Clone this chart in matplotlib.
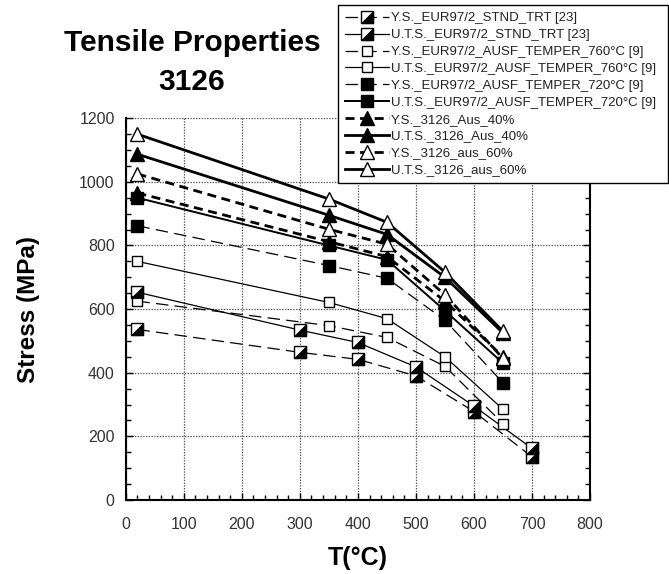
import numpy as np
import matplotlib
matplotlib.use("Agg")
import matplotlib.pyplot as plt
from matplotlib.ticker import MultipleLocator

plt.rcParams['font.family'] = ['Liberation Sans', 'DejaVu Sans']
plt.rcParams['lines.scale_dashes'] = False

# temperatures (°C)
t_stnd = [20, 300, 400, 500, 600, 700]
t_ausf = [20, 350, 450, 550, 650]
t_3126 = [20, 350, 450, 550, 650]

# stress (MPa)
ys_stnd = [536, 464, 442, 390, 278, 135]
uts_stnd = [653, 534, 495, 418, 295, 162]
ys_760 = [625, 548, 511, 420, 240]
uts_760 = [750, 621, 570, 450, 285]
ys_720 = [862, 737, 697, 565, 368]
uts_720 = [950, 800, 755, 595, 430]
ys_40 = [965, 812, 765, 625, 450]
uts_40 = [1087, 895, 835, 700, 525]
ys_60 = [1025, 851, 804, 645, 445]
uts_60 = [1150, 946, 873, 716, 530]

labels = ["Y.S._EUR97/2_STND_TRT [23]",
          "U.T.S._EUR97/2_STND_TRT [23]",
          "Y.S._EUR97/2_AUSF_TEMPER_760°C [9]",
          "U.T.S._EUR97/2_AUSF_TEMPER_760°C [9]",
          "Y.S._EUR97/2_AUSF_TEMPER_720°C [9]",
          "U.T.S._EUR97/2_AUSF_TEMPER_720°C [9]",
          "Y.S._3126_Aus_40%",
          "U.T.S._3126_Aus_40%",
          "Y.S._3126_aus_60%",
          "U.T.S._3126_aus_60%"]

thin_dash = (0, (9, 4.5))
thick_dash = (0, (6.5, 4))
half_tri = [(-1, -1), (1, -1), (1, 1), (-1, -1)]  # lower-right half of the square

fig = plt.figure(figsize=(6.69, 5.74), dpi=100)
ax = fig.add_axes([0.188, 0.129, 0.694, 0.665])

handles = []

def series(x, y, ls, lw, marker, ms, face, half=False):
    ln, = ax.plot(x, y, color='black', ls=ls, lw=lw, marker=marker, ms=ms,
                  mfc=face, mec='black', mew=1, zorder=3)
    if half:
        tri, = ax.plot(x, y, ls='none', marker=half_tri, ms=ms, mfc='black',
                       mec='black', mew=0.5, zorder=4)
        handles.append((ln, tri))
    else:
        handles.append(ln)

series(t_stnd, ys_stnd, thin_dash, 0.9, 's', 9, 'white', half=True)
series(t_stnd, uts_stnd, '-', 0.9, 's', 9, 'white', half=True)
series(t_ausf, ys_760, thin_dash, 0.9, 's', 7, 'white')
series(t_ausf, uts_760, '-', 0.9, 's', 7, 'white')
series(t_ausf, ys_720, thin_dash, 0.9, 's', 8, 'black')
series(t_ausf, uts_720, '-', 1.4, 's', 8, 'black')
series(t_3126, ys_40, thick_dash, 2.0, '^', 10, 'black')
series(t_3126, uts_40, '-', 2.0, '^', 10, 'black')
series(t_3126, ys_60, thick_dash, 2.0, '^', 10, 'white')
series(t_3126, uts_60, '-', 2.0, '^', 10, 'white')

ax.set_xlim(0, 800)
ax.set_ylim(0, 1200)
ax.xaxis.set_major_locator(MultipleLocator(100))
ax.xaxis.set_minor_locator(MultipleLocator(20))
ax.yaxis.set_major_locator(MultipleLocator(200))
ax.yaxis.set_minor_locator(MultipleLocator(50))
ax.grid(True, which='major', color='#555555', ls=(0, (1, 1)), lw=0.9)
ax.set_axisbelow(True)

for s in ['left', 'bottom', 'right']:
    ax.spines[s].set_linewidth(1.5)
ax.spines['top'].set_visible(False)
ax.tick_params(which='both', direction='in', right=True, top=False,
               labelsize=11.5, labelcolor='#333333', width=1)
ax.tick_params(which='major', length=5)
ax.tick_params(which='minor', length=3.5)
ax.tick_params(axis='x', pad=12)
ax.tick_params(axis='y', pad=8)

ax.set_xlabel("T(°C)", fontsize=18, fontweight='bold', labelpad=10)
ax.set_ylabel("Stress (MPa)", fontsize=17.5, fontweight='bold', labelpad=28)

fig.text(192 / 669, 1 - 43 / 574, "Tensile Properties", fontsize=21.5,
         fontweight='bold', ha='center', va='center')
fig.text(192 / 669, 1 - 82 / 574, "3126", fontsize=21.5,
         fontweight='bold', ha='center', va='center')

leg = fig.legend(handles, labels, loc='upper left',
                 bbox_to_anchor=(338 / 669, 0.5, 330 / 669, 1 - 5 / 574 - 0.5),
                 mode='expand', fontsize=9.5, frameon=True, fancybox=False,
                 edgecolor='black', framealpha=1, borderaxespad=0,
                 handlelength=3.3, handletextpad=0.15, borderpad=0.55,
                 labelspacing=0.35, numpoints=1)
leg.get_frame().set_linewidth(1)
for txt in leg.get_texts():
    txt.set_color('#222222')

fig.savefig("out.png", dpi=100)
